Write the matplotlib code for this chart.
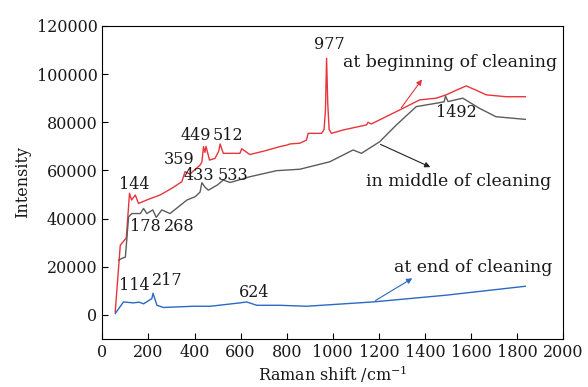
import matplotlib.pyplot as plt

plt.rcParams['font.family'] = ['DejaVu Serif']
plt.rcParams['mathtext.fontset'] = 'dejavuserif'

# spectrum at beginning of cleaning (red)
begin_x = [56, 78, 104, 118, 127, 143, 157, 200, 251, 300, 345, 359, 380, 424, 432,
           439, 445, 450, 465, 489, 505, 511, 518, 525, 597, 605, 640, 700, 771, 800,
           815, 857, 886, 893, 951, 962, 968, 973, 978, 984, 994, 1045, 1146, 1153,
           1167, 1290, 1377, 1449, 1492, 1540, 1579, 1622, 1665, 1752, 1835]
begin_y = [1250, 29000, 31900, 50500, 47700, 49800, 46300, 48000, 49800, 52500, 55300,
           59500, 58500, 62200, 63500, 69900, 67500, 70000, 64300, 65000, 68000, 71000,
           69000, 67100, 67100, 69000, 66600, 68000, 69900, 70500, 71000, 71300, 72600,
           75400, 75400, 77000, 85000, 106600, 88000, 77000, 75400, 76800, 78900, 80000,
           79300, 85100, 89300, 90000, 91400, 93500, 95100, 93300, 91400, 90600, 90600]

# spectrum in middle of cleaning (gray)
middle_x = [71, 85, 100, 114, 128, 165, 179, 193, 219, 234, 258, 294, 367, 403, 424,
            432, 446, 460, 500, 525, 555, 641, 756, 857, 987, 1088, 1124, 1203, 1276,
            1362, 1449, 1483, 1489, 1500, 1564, 1636, 1708, 1835]
middle_y = [22700, 23500, 24000, 40700, 42100, 42100, 44200, 42100, 43600, 40500, 43600,
            42100, 47700, 49100, 51000, 54900, 53000, 51800, 54000, 56000, 55000, 57400,
            59900, 60500, 63600, 68500, 67100, 71900, 78900, 86500, 87900, 88500, 90900,
            88600, 90000, 85800, 82300, 81200]

# spectrum at end of cleaning (blue)
end_x = [56, 92, 134, 160, 179, 215, 220, 237, 265, 395, 468, 597, 626, 670, 771, 886,
         1175, 1492, 1835]
end_y = [600, 5400, 5000, 5300, 4600, 6800, 9000, 4000, 3100, 3600, 3600, 5000, 5400,
         4000, 4000, 3600, 5400, 8200, 11900]

peak_labels = ["977", "1492", "449", "512", "359", "433", "533", "144", "178", "268",
               "114", "217", "624"]
peak_pos = [(983, 112100), (1537, 84200), (407, 74300), (546, 74300), (335, 64700),
            (421, 57700), (566, 57700), (138, 54300), (186, 36900), (333, 36900),
            (137, 12300), (281, 14400), (659, 9500)]

fig, ax = plt.subplots(figsize=(5.88, 3.87), dpi=100)
fig.subplots_adjust(left=0.174, right=0.958, top=0.933, bottom=0.124)

ax.plot(begin_x, begin_y, color='#e8343c', lw=1.0)
ax.plot(middle_x, middle_y, color='#5c5c5c', lw=1.0)
ax.plot(end_x, end_y, color='#2c68c4', lw=1.0)

for lab, (px, py) in zip(peak_labels, peak_pos):
    ax.text(px, py, lab, ha='center', va='center', fontsize=11.5, color='#1a1a1a')

ax.text(1975, 105000, "at beginning of cleaning", ha='right', va='center', fontsize=12.5,
        color='#1a1a1a')
ax.text(1545, 55300, "in middle of cleaning", ha='center', va='center', fontsize=12.5,
        color='#1a1a1a')
ax.text(1609, 19700, "at end of cleaning", ha='center', va='center', fontsize=12.5,
        color='#1a1a1a')

ax.annotate("", xy=(1394, 98700), xytext=(1290, 85100),
            arrowprops=dict(arrowstyle='-|>', color='#e8343c', lw=0.8, mutation_scale=8))
ax.annotate("", xy=(1434, 60900), xytext=(1196, 71300),
            arrowprops=dict(arrowstyle='-|>', color='#222222', lw=0.8, mutation_scale=8))
ax.annotate("", xy=(1355, 15800), xytext=(1175, 5400),
            arrowprops=dict(arrowstyle='-|>', color='#2c68c4', lw=0.8, mutation_scale=8))

ax.set_xlim(0, 2000)
ax.set_ylim(-10000, 120000)
ax.set_xticks(range(0, 2001, 200))
ax.set_yticks(range(0, 120001, 20000))
ax.tick_params(direction='in', labelsize=11.5, length=4, top=False, right=False,
               labelcolor='#1a1a1a')
ax.set_xlabel("Raman shift /cm$^{-1}$", fontsize=11.5, labelpad=2, color='#1a1a1a')
ax.set_ylabel("Intensity", fontsize=11.5, color='#1a1a1a')

plt.savefig("out.png")
